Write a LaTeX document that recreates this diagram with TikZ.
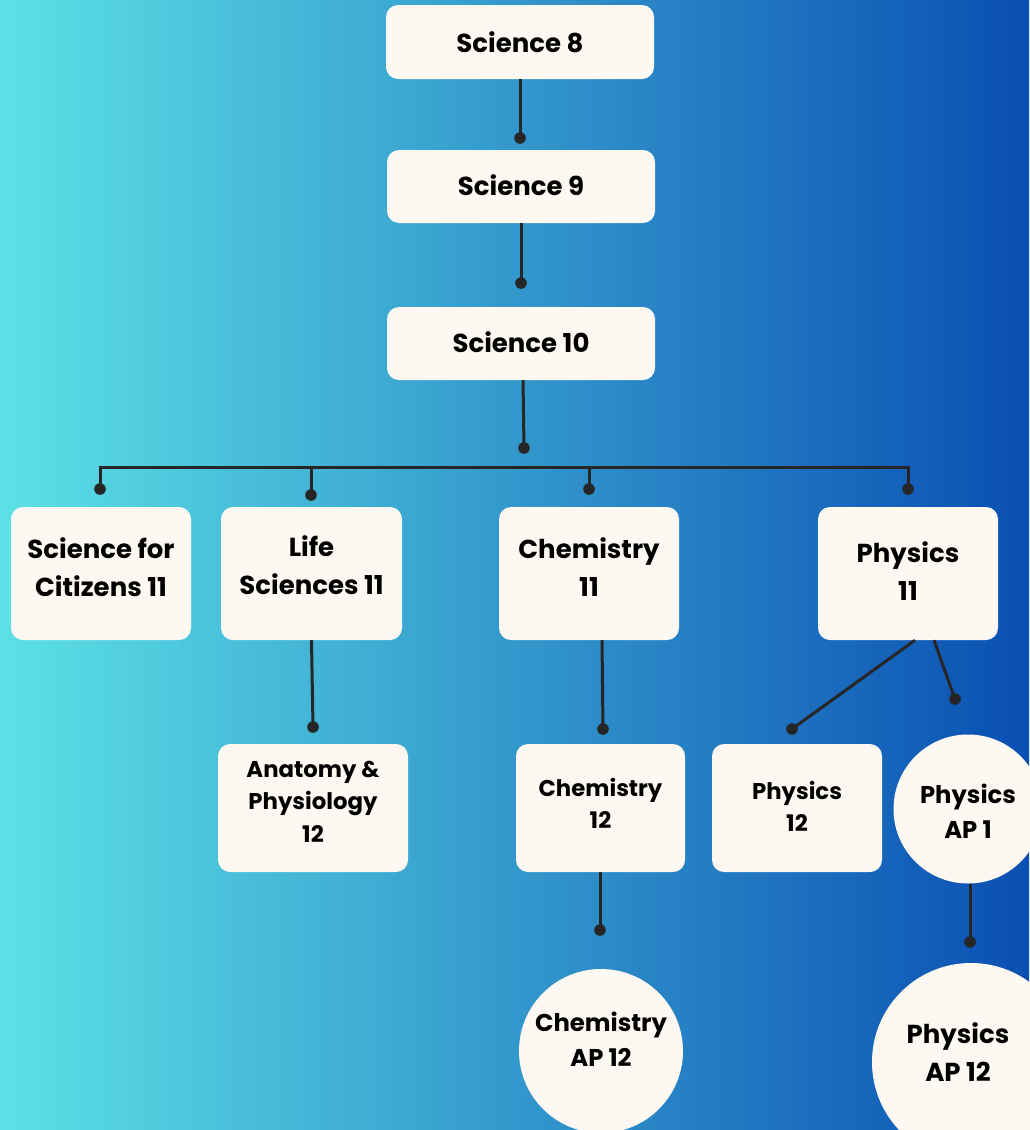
\documentclass[tikz,border=0pt]{standalone}
\usepackage{fontspec}
\setmainfont{Poppins}[BoldFont=* Bold]
\usetikzlibrary{calc}
\definecolor{cream}{HTML}{FDF8F2}
\definecolor{linec}{HTML}{262626}
\definecolor{bgL}{HTML}{5CE1E6}
\definecolor{bgR}{HTML}{0A4FB3}
\tikzset{
  box/.style={rectangle, rounded corners=12pt, fill=cream, inner sep=0pt},
  circ/.style={circle, fill=cream, inner sep=0pt},
  conn/.style={draw=linec, line width=3pt},
  lbl/.style={align=center, text=black, inner sep=0pt},
  fa/.style={lbl, font=\bfseries\fontsize{26}{38}\selectfont},
  fb/.style={lbl, font=\bfseries\fontsize{22.8}{32.5}\selectfont},
  fc/.style={lbl, font=\bfseries\fontsize{24.3}{35}\selectfont},
}
\newcommand{\mydot}[1]{\fill[linec] (#1) circle (5.8pt);}
\begin{document}
\begin{tikzpicture}[x=1pt,y=-1pt]
\shade[left color=bgL, right color=bgR] (0,0) rectangle (1029,1130);
\useasboundingbox (0,0) rectangle (1029,1130);

% nodes
\node[box, minimum width=268pt, minimum height=74pt, label={[fa]center:Science 8}] (s8) at (520,42) {};
\node[box, minimum width=268pt, minimum height=73pt, label={[fa, yshift=1.5pt]center:Science 9}] (s9) at (521,186.5) {};
\node[box, minimum width=268pt, minimum height=73pt, label={[fa, yshift=1pt]center:Science 10}] (s10) at (521,343.5) {};

\node[box, minimum width=180pt, minimum height=133pt, label={[fa, yshift=6pt]center:Science for\\Citizens 11}] (sfc) at (101,573.5) {};
\node[box, minimum width=181pt, minimum height=133pt, label={[fa, yshift=8pt]center:Life\\Sciences 11}] (ls) at (311.5,573.5) {};
\node[box, minimum width=180pt, minimum height=133pt, label={[fa, yshift=6pt]center:Chemistry\\11}] (ch11) at (589,573.5) {};
\node[box, minimum width=180pt, minimum height=133pt, label={[fa, yshift=2pt]center:Physics\\11}] (ph11) at (908,573.5) {};

\node[box, minimum width=190pt, minimum height=128pt, label={[fb, yshift=6.5pt]center:Anatomy \&\\Physiology\\12}] (ana) at (313,808) {};
\node[box, minimum width=169pt, minimum height=128pt, label={[fb, yshift=4.5pt]center:Chemistry\\12}] (ch12) at (600.5,808) {};
\node[box, minimum width=170pt, minimum height=128pt, label={[fb, yshift=1.5pt]center:Physics\\12}] (ph12) at (797,808) {};

\node[circ, minimum size=149pt, label={[fc, yshift=-2.5pt]center:Physics\\AP 1}] (pap1) at (968,809) {};
\node[circ, minimum size=164pt, label={[fc, yshift=11.5pt]center:Chemistry\\AP 12}] (chap) at (601,1051) {};
\node[circ, minimum size=198pt, label={[fa, yshift=10pt, xshift=-13pt]center:Physics\\AP 12}] (pap12) at (971,1062) {};

% endpoints
\coordinate (d9) at (520,138);
\coordinate (d10) at (521,283);
\coordinate (dbar) at (524,448);
\coordinate (b1) at (100,467);
\coordinate (b2) at (311,467);
\coordinate (b3) at (589,467);
\coordinate (b4) at (908,467);
\coordinate (d1) at (100,489);
\coordinate (d2) at (311,495);
\coordinate (d3) at (589,489);
\coordinate (d4) at (908,489);
\coordinate (dana) at (313,727);
\coordinate (dch12) at (603,729);
\coordinate (dchap) at (600,930);
\coordinate (dph12) at (792,729);
\coordinate (dpap1) at (955,699);
\coordinate (dpap12) at (970,942);

% connectors
\draw[conn] (s8.south) -- (d9);
\draw[conn] (s9.south) -- (d10);
\draw[conn] ([xshift=2pt]s10.south) -- (dbar);
\draw[conn] (d1) -- (b1) -- (b4) -- (d4);
\draw[conn] (b2) -- (d2);
\draw[conn] (b3) -- (d3);
\draw[conn] (ls.south) -- (dana);
\draw[conn] ([xshift=13pt]ch11.south) -- (dch12);
\draw[conn] ([xshift=-0.5pt]ch12.south) -- (dchap);
\draw[conn] ([xshift=7pt]ph11.south) -- (dph12);
\draw[conn] ([xshift=26pt]ph11.south) -- (dpap1);
\draw[conn] ([xshift=2pt]pap1.south) -- (dpap12);

\foreach \p in {d9,d10,dbar,d1,d2,d3,d4,dana,dch12,dchap,dph12,dpap1,dpap12} {\mydot{\p}}
\end{tikzpicture}
\end{document}
